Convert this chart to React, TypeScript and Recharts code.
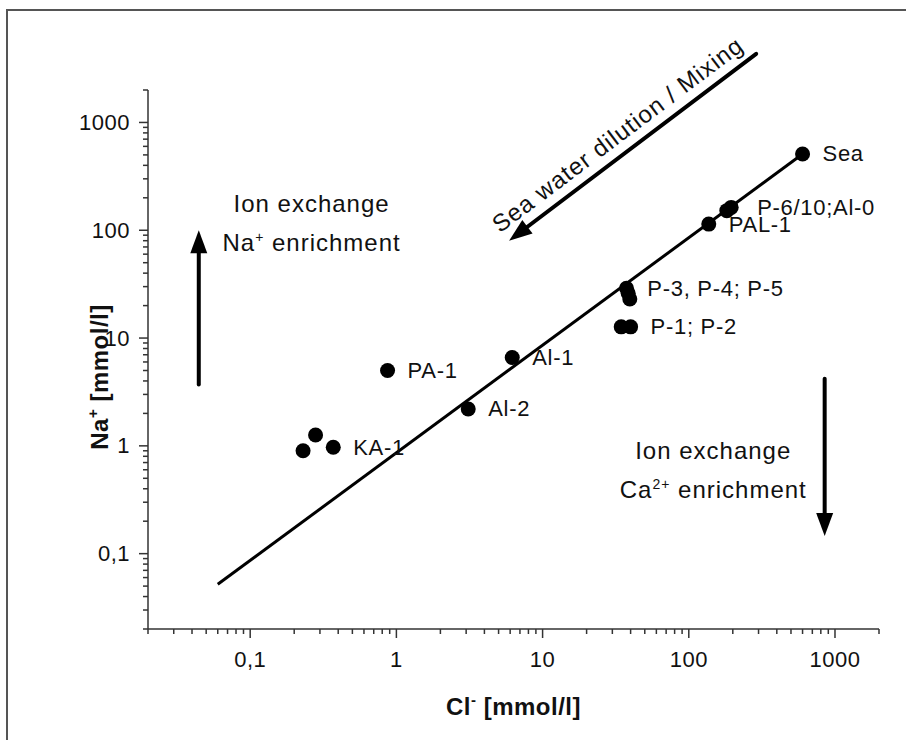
import React from 'react';
import {
  ScatterChart,
  Scatter,
  XAxis,
  YAxis,
  ReferenceLine,
  ReferenceDot,
} from 'recharts';

// sample points, Cl- vs Na+ in mmol/l
const samplePoints = [
  { cl: 600, na: 510 },
  { cl: 182, na: 152 },
  { cl: 195, na: 163 },
  { cl: 137, na: 114 },
  { cl: 37.5, na: 29 },
  { cl: 38.5, na: 26 },
  { cl: 39.5, na: 23 },
  { cl: 34.5, na: 12.7 },
  { cl: 40, na: 12.7 },
  { cl: 6.2, na: 6.6 },
  { cl: 3.1, na: 2.2 },
  { cl: 0.87, na: 5.0 },
  { cl: 0.37, na: 0.97 },
  { cl: 0.28, na: 1.26 },
  { cl: 0.23, na: 0.9 },
];

// labels anchored at one point of each group
const sampleLabels = [
  { cl: 600, na: 510, name: 'Sea' },
  { cl: 195, na: 163, name: 'P-6/10;Al-0' },
  { cl: 137, na: 114, name: 'PAL-1' },
  { cl: 38, na: 29, name: 'P-3, P-4; P-5' },
  { cl: 40, na: 12.7, name: 'P-1; P-2' },
  { cl: 6.2, na: 6.6, name: 'Al-1' },
  { cl: 3.1, na: 2.2, name: 'Al-2' },
  { cl: 0.87, na: 5.0, name: 'PA-1' },
  { cl: 0.37, na: 0.97, name: 'KA-1' },
];

// seawater mixing line
const mixingLine = [
  { cl: 0.06, na: 0.052 },
  { cl: 600, na: 510 },
];

const xTicks = [
  0.02, 0.03, 0.04, 0.05, 0.06, 0.07, 0.08, 0.09,
  0.1, 0.2, 0.3, 0.4, 0.5, 0.6, 0.7, 0.8, 0.9,
  1, 2, 3, 4, 5, 6, 7, 8, 9,
  10, 20, 30, 40, 50, 60, 70, 80, 90,
  100, 200, 300, 400, 500, 600, 700, 800, 900,
  1000, 2000,
];
const yTicks = xTicks;
const majorTicks = [0.1, 1, 10, 100, 1000];

// annotation arrows (data coords)
const naArrow = [{ x: 0.0445, y: 3.7 }, { x: 0.0445, y: 100 }];
const caArrow = [{ x: 850, y: 4.2 }, { x: 850, y: 0.146 }];
const seaArrow = [{ x: 289, y: 4335 }, { x: 5.9, y: 80 }];

const FONT = '"Liberation Sans", Arial, sans-serif';
const INK = '#111';

const fmt = (v: number) => String(v).replace('.', ',');

const XTick = (p: any) => {
  const v = p.payload.value;
  const major = majorTicks.includes(v);
  return (
    <g>
      <line x1={p.x} y1={p.y} x2={p.x} y2={p.y + (major ? 9 : 5)} stroke="#333" strokeWidth={1.5} />
      {major && (
        <text x={p.x} y={p.y + 38} textAnchor="middle" fontFamily={FONT} fontSize={22} letterSpacing={0.5} fill={INK}>
          {fmt(v)}
        </text>
      )}
    </g>
  );
};

const YTick = (p: any) => {
  const v = p.payload.value;
  const major = majorTicks.includes(v);
  return (
    <g>
      <line x1={p.x} y1={p.y} x2={p.x - (major ? 9 : 5)} y2={p.y} stroke="#333" strokeWidth={1.5} />
      {major && (
        <text x={p.x - 18} y={p.y} textAnchor="end" dominantBaseline="central" fontFamily={FONT} fontSize={22} letterSpacing={0.5} fill={INK}>
          {fmt(v)}
        </text>
      )}
    </g>
  );
};

const Arrow = (p: any) => {
  const { x1, y1, x2, y2 } = p;
  const dx = x2 - x1;
  const dy = y2 - y1;
  const len = Math.hypot(dx, dy) || 1;
  const ux = dx / len;
  const uy = dy / len;
  const hl = 23;
  const hw = 8.5;
  const bx = x2 - ux * hl;
  const by = y2 - uy * hl;
  return (
    <g>
      <line x1={x1} y1={y1} x2={bx + ux * 2} y2={by + uy * 2} stroke="#000" strokeWidth={4} strokeLinecap="round" />
      <polygon
        points={`${x2},${y2} ${bx - uy * hw},${by + ux * hw} ${bx + uy * hw},${by - ux * hw}`}
        fill="#000"
      />
    </g>
  );
};

const labelDx: Record<string, number> = { 'P-6/10;Al-0': 26 };

const LabelShape = (p: any) => (
  <text
    x={p.cx + (labelDx[p.payload.name] ?? 20)}
    y={p.cy}
    dominantBaseline="central"
    fontFamily={FONT}
    fontSize={22}
    letterSpacing={0.7}
    fill={INK}
  >
    {p.payload.name}
  </text>
);

const Sup = ({ t }: { t: string }) => (
  <>
    <tspan dy={-9} fontSize={14}>{t}</tspan>
    <tspan dy={9}> </tspan>
  </>
);

const TwoLines = (first: React.ReactNode, second: React.ReactNode) => (p: any) => (
  <text x={p.cx} y={p.cy} textAnchor="middle" fontFamily={FONT} fontSize={24} letterSpacing={1} fill={INK}>
    <tspan x={p.cx} dy={0}>{first}</tspan>
    <tspan x={p.cx} dy={38.5}>{second}</tspan>
  </text>
);

const App = () => (
  <div style={{ position: 'absolute', left: 0, top: 0, width: 906, height: 740, background: '#fff' }}>
    <div
      style={{
        position: 'absolute',
        left: 6,
        top: 9,
        right: 0,
        bottom: 0,
        borderTop: '2px solid #555',
        borderLeft: '2px solid #555',
      }}
    />
    <ScatterChart width={906} height={740} margin={{ top: 90, right: 27, bottom: 0, left: 0 }}>
      <XAxis
        type="number"
        dataKey="cl"
        scale="log"
        domain={[0.02, 2000]}
        allowDataOverflow
        ticks={xTicks}
        interval={0}
        height={111}
        tickSize={0}
        tickMargin={0}
        tickLine={false}
        axisLine={{ stroke: '#333', strokeWidth: 1.5 }}
        tick={<XTick />}
        label={{
          position: 'insideBottom',
          content: (lp: any) => (
            <text
              x={lp.viewBox.x + lp.viewBox.width / 2}
              y={lp.viewBox.y + 86}
              textAnchor="middle"
              fontFamily={FONT}
              fontSize={24}
              fontWeight="bold"
              letterSpacing={0.5}
              fill={INK}
            >
              Cl<tspan dy={-10} fontSize={15}>-</tspan>
              <tspan dy={10}> [mmol/l]</tspan>
            </text>
          ),
        }}
      />
      <YAxis
        type="number"
        dataKey="na"
        scale="log"
        domain={[0.02, 2000]}
        allowDataOverflow
        ticks={yTicks}
        interval={0}
        width={148}
        tickSize={0}
        tickMargin={0}
        tickLine={false}
        axisLine={{ stroke: '#333', strokeWidth: 1.5 }}
        tick={<YTick />}
        label={{
          position: 'insideLeft',
          content: () => (
            <text
              transform="translate(108,377) rotate(-90)"
              textAnchor="middle"
              fontFamily={FONT}
              fontSize={24}
              fontWeight="bold"
              letterSpacing={0.5}
              fill={INK}
            >
              Na<tspan dy={-10} fontSize={15}>+</tspan>
              <tspan dy={10}> [mmol/l]</tspan>
            </text>
          ),
        }}
      />
      <Scatter
        data={mixingLine}
        line={{ stroke: '#000', strokeWidth: 3 }}
        shape={() => <g />}
        isAnimationActive={false}
      />
      <Scatter
        data={samplePoints}
        fill="#000"
        shape={(p: any) => <circle cx={p.cx} cy={p.cy} r={7.5} fill="#000" />}
        isAnimationActive={false}
      />
      <Scatter data={sampleLabels} shape={<LabelShape />} isAnimationActive={false} />
      <ReferenceLine segment={naArrow} ifOverflow="visible" shape={<Arrow />} />
      <ReferenceLine segment={caArrow} ifOverflow="visible" shape={<Arrow />} />
      <ReferenceLine segment={seaArrow} ifOverflow="visible" shape={<Arrow />} />
      <ReferenceDot
        x={0.263}
        y={147}
        ifOverflow="visible"
        shape={TwoLines('Ion exchange', <>Na<Sup t="+" />enrichment</>)}
      />
      <ReferenceDot
        x={147}
        y={0.752}
        ifOverflow="visible"
        shape={TwoLines('Ion exchange', <>Ca<Sup t="2+" />enrichment</>)}
      />
      <ReferenceDot
        x={32.5}
        y={775}
        ifOverflow="visible"
        shape={(p: any) => (
          <text
            transform={`translate(${p.cx},${p.cy}) rotate(-37)`}
            textAnchor="middle"
            dominantBaseline="central"
            fontFamily={FONT}
            fontSize={24}
            letterSpacing={1}
            fill={INK}
          >
            Sea water dilution / Mixing
          </text>
        )}
      />
    </ScatterChart>
  </div>
);

export default App;
